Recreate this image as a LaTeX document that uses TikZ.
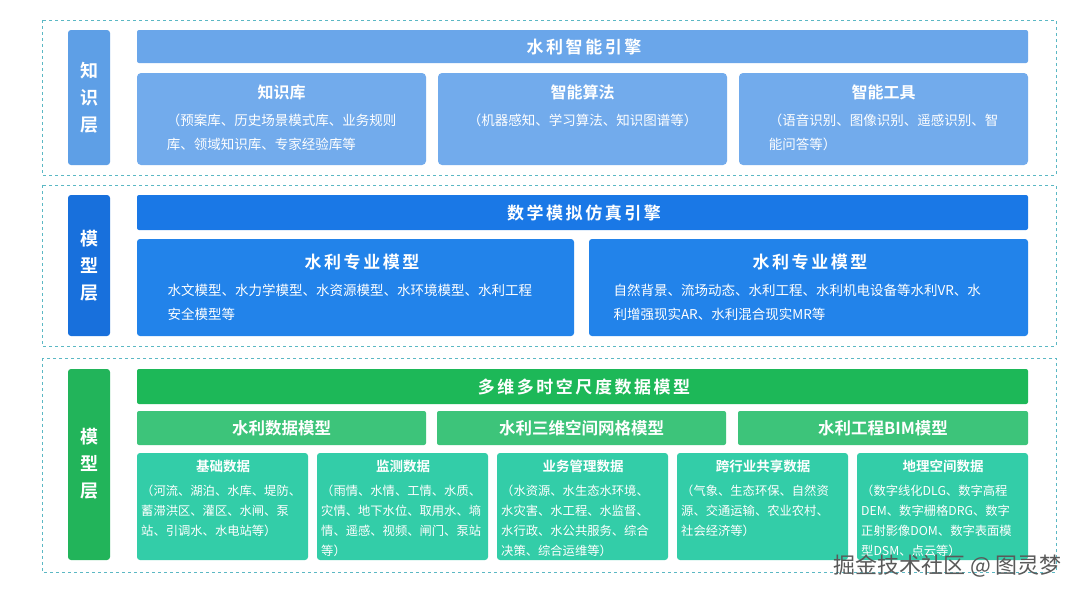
\documentclass[tikz,border=0pt]{standalone}
\usepackage{fontspec}
\setmainfont{Noto Sans CJK SC}
\newfontfamily\cjkb{Noto Sans CJK SC Bold}
\newfontfamily\cjkbs[LetterSpace=15]{Noto Sans CJK SC Bold}
\begin{document}
\begin{tikzpicture}[x=1pt,y=-1pt,
  txt/.style={text=white,align=left,font=\fontsize{13.5}{24}\selectfont},
  ttl/.style={text=white,font=\cjkb\fontsize{16}{18}\selectfont},
  big/.style={text=white,font=\cjkbs\fontsize{17}{19}\selectfont},
  vlab/.style={text=white,align=center,font=\cjkb\fontsize{18}{27}\selectfont},
  dbox/.style={draw=dashc,dashed,line width=0.8pt}]
\definecolor{kA}{HTML}{6AA6EA}\definecolor{kB}{HTML}{72ABEC}\definecolor{kL}{HTML}{5E9FE6}
\definecolor{mA}{HTML}{1A78E6}\definecolor{mB}{HTML}{2283EA}\definecolor{mL}{HTML}{1870DC}
\definecolor{gA}{HTML}{1DB858}\definecolor{gB}{HTML}{3DC47A}\definecolor{gC}{HTML}{33CDA8}\definecolor{gL}{HTML}{22B45A}
\definecolor{dashc}{HTML}{5BB8C4}
\useasboundingbox (0,0) rectangle (1080,597);
\fill[white] (0,0) rectangle (1080,597);
\draw[dbox] (42,20) rectangle (1056,175);
\draw[dbox] (42,185) rectangle (1056,346);
\draw[dbox] (42,358) rectangle (1056,572);
% layer 1
\fill[kL,rounded corners=3pt] (68,30) rectangle (110,165);
\node[vlab] (l1) at (89,98) {知\\识\\层};
\fill[kA,rounded corners=2pt] (137,30) rectangle (1028,63);
\node[big] (e1) at (584,47) {水利智能引擎};
\foreach \a/\b/\t/\n [count=\i] in {137/426/知识库/{（预案库、历史场景模式库、业务规则\\库、领域知识库、专家经验库等}, 438/727/智能算法/{（机器感知、学习算法、知识图谱等）}, 739/1028/智能工具/{（语音识别、图像识别、遥感识别、智\\能问答等）}}{
  \fill[kB,rounded corners=4pt] (\a,73) rectangle (\b,165);
  \node[ttl] (k\i) at ({(\a+\b)/2},92) {\t};
  \node[txt,anchor=north] (kt\i) at ({(\a+\b)/2},110) {\n};
}
% layer 2
\fill[mL,rounded corners=3pt] (68,195) rectangle (110,336);
\node[vlab] (l2) at (89,266) {模\\型\\层};
\fill[mA,rounded corners=2pt] (137,195) rectangle (1028,230);
\node[big] (e2) at (584,213) {数学模拟仿真引擎};
\fill[mB,rounded corners=3pt] (137,239) rectangle (574,336);
\node[big] (m1) at (362,262) {水利专业模型};
\node[txt,anchor=north west] (mt1) at (164,281) {水文模型、水力学模型、水资源模型、水环境模型、水利工程\\安全模型等};
\fill[mB,rounded corners=3pt] (589,239) rectangle (1028,336);
\node[big] (m2) at (810,262) {水利专业模型};
\node[txt,anchor=north west] (mt2) at (610,281) {自然背景、流场动态、水利工程、水利机电设备等水利VR、水\\利增强现实AR、水利混合现实MR等};
% layer 3
\fill[gL,rounded corners=3pt] (68,369) rectangle (110,560);
\node[vlab] (l3) at (89,464) {模\\型\\层};
\fill[gA,rounded corners=2pt] (137,369) rectangle (1028,404);
\node[big] (e3) at (584,387) {多维多时空尺度数据模型};
\foreach \a/\b/\t [count=\i] in {137/426/水利数据模型,437/726/水利三维空间网格模型,738/1028/水利工程BIM模型}{
  \fill[gB,rounded corners=2pt] (\a,411) rectangle (\b,445);
  \node[ttl,font=\cjkb\fontsize{16.5}{18}\selectfont] (g\i) at ({(\a+\b)/2},428) {\t};
}
\foreach \a/\t/\n [count=\i] in {137/基础数据/{（河流、湖泊、水库、堤防、\\蓄滞洪区、灌区、水闸、泵\\站、引调水、水电站等）}, 317/监测数据/{（雨情、水情、工情、水质、\\灾情、地下水位、取用水、墒\\情、遥感、视频、闸门、泵站\\等）}, 497/业务管理数据/{（水资源、水生态水环境、\\水灾害、水工程、水监督、\\水行政、水公共服务、综合\\决策、综合运维等）}, 677/跨行业共享数据/{（气象、生态环保、自然资\\源、交通运输、农业农村、\\社会经济等）}, 857/地理空间数据/{（数字线化DLG、数字高程\\DEM、数字栅格DRG、数字\\正射影像DOM、数字表面模\\型DSM、点云等）}}{
  \fill[gC,rounded corners=3pt] (\a,453) rectangle ({\a+171},560);
  \node[ttl,font=\cjkb\fontsize{13.5}{15}\selectfont] (d\i) at ({\a+86},466) {\t};
  \node[txt,font=\fontsize{12.3}{20}\selectfont,anchor=north west,inner sep=0pt] (dt\i) at ({\a+4},485) {\n};
}
\node[text=gray!70!black,font=\fontsize{22}{24}\selectfont,anchor=east,inner sep=0pt] (wm) at (1062,566) {掘金技术社区 @ 图灵梦};
\end{tikzpicture}
\end{document}
